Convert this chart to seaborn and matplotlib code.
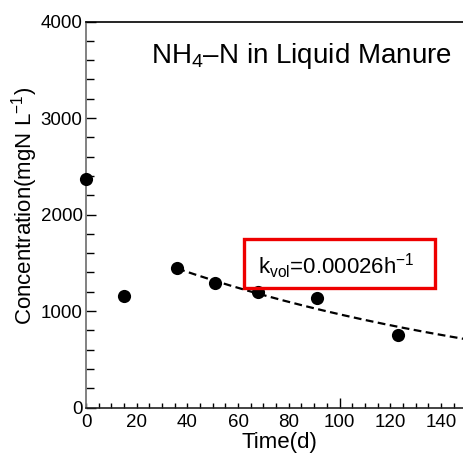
import numpy as np
import pandas as pd
import matplotlib
matplotlib.use("Agg")
import matplotlib.pyplot as plt
import seaborn as sns
from matplotlib.patches import Rectangle
from matplotlib.ticker import MultipleLocator

# Measured NH4-N concentrations in liquid manure
time_d = [0, 15, 36, 51, 68, 91, 123]
conc = [2365, 1160, 1445, 1285, 1195, 1135, 755]

# First-order volatilisation fit, started at day 36
k_vol = 0.00026          # h^-1
t_fit_start = 36
c_fit_start = 1440
t_fit_end = 150

sns.set_theme(style="ticks")
plt.rcParams["font.family"] = ["Liberation Sans", "DejaVu Sans"]
plt.rcParams["mathtext.fontset"] = "custom"
plt.rcParams["mathtext.rm"] = "Liberation Sans"
plt.rcParams["mathtext.default"] = "regular"
for key in ("text.color", "axes.labelcolor", "xtick.color", "ytick.color",
            "xtick.labelcolor", "ytick.labelcolor"):
    plt.rcParams[key] = "black"

fig = plt.figure(figsize=(4.64, 4.54), dpi=100)
left, bottom = 86 / 464, 46.5 / 454
width = 150 * 2.535 / 464
height = 386 / 454
ax = fig.add_axes([left, bottom, width, height])

df = pd.DataFrame({"Time": time_d, "Conc": conc})
sns.scatterplot(data=df, x="Time", y="Conc", ax=ax, color="black",
                s=90, edgecolor="black", linewidth=0, zorder=4, clip_on=False)

t_fit = np.linspace(t_fit_start, t_fit_end, 200)
c_fit = c_fit_start * np.exp(-k_vol * 24 * (t_fit - t_fit_start))
ax.plot(t_fit, c_fit, color="black", lw=1.6, ls=(0, (3.5, 2)), zorder=3)

ax.set_xlim(0, 150)
ax.set_ylim(0, 4000)
ax.xaxis.set_major_locator(MultipleLocator(20))
ax.xaxis.set_minor_locator(MultipleLocator(5))
ax.yaxis.set_major_locator(MultipleLocator(1000))
ax.yaxis.set_minor_locator(MultipleLocator(200))

ax.tick_params(axis="x", which="both", direction="in", color="black",
               labelcolor="black", width=1.0, length=3.5, labelsize=13.5, pad=5)
ax.tick_params(axis="y", which="major", direction="in", color="black",
               labelcolor="black", width=1.0, length=7.5, labelsize=13.5, pad=2.5)
ax.tick_params(axis="y", which="minor", direction="in", color="black",
               width=1.0, length=5.5)
for tk in ax.xaxis.get_major_ticks():
    if abs(tk.get_loc() - 100) < 1e-6:
        tk.tick1line.set_markersize(7.5)

ax.spines["right"].set_visible(False)
ax.spines["left"].set_color("#777777")
ax.spines["left"].set_linewidth(1.3)
ax.spines["bottom"].set_color("#222222")
ax.spines["bottom"].set_linewidth(1.2)
ax.spines["top"].set_color("black")
ax.spines["top"].set_linewidth(1.2)

ax.set_xlabel("")
ax.set_ylabel("")
fig.text(279.5 / 464, (454 - 448) / 454, "Time(d)", ha="center",
         va="baseline", fontsize=16, color="black")
fig.text(25 / 464, (454 - 206) / 454, "Concentration(mgN L$^{-1}$)",
         rotation=90, ha="center", va="center", fontsize=16, color="black")

fig.text(301 / 464, (454 - 62.7) / 454, "NH$_4$\u2013N in Liquid Manure",
         ha="center", va="baseline", fontsize=20, color="black")

# Rate constant annotation
box = Rectangle((244 / 464, (454 - 288) / 454), (435 - 244) / 464,
                (288 - 239) / 454, transform=fig.transFigure,
                fill=False, edgecolor="#ee0000", linewidth=2.4, zorder=6)
fig.patches.append(box)
fig.text(336.5 / 464, (454 - 274) / 454,
         f"k$_{{vol}}$={k_vol:.5f}h$^{{-1}}$",
         ha="center", va="baseline", fontsize=16, color="black")

fig.savefig("out.png", dpi=100)
